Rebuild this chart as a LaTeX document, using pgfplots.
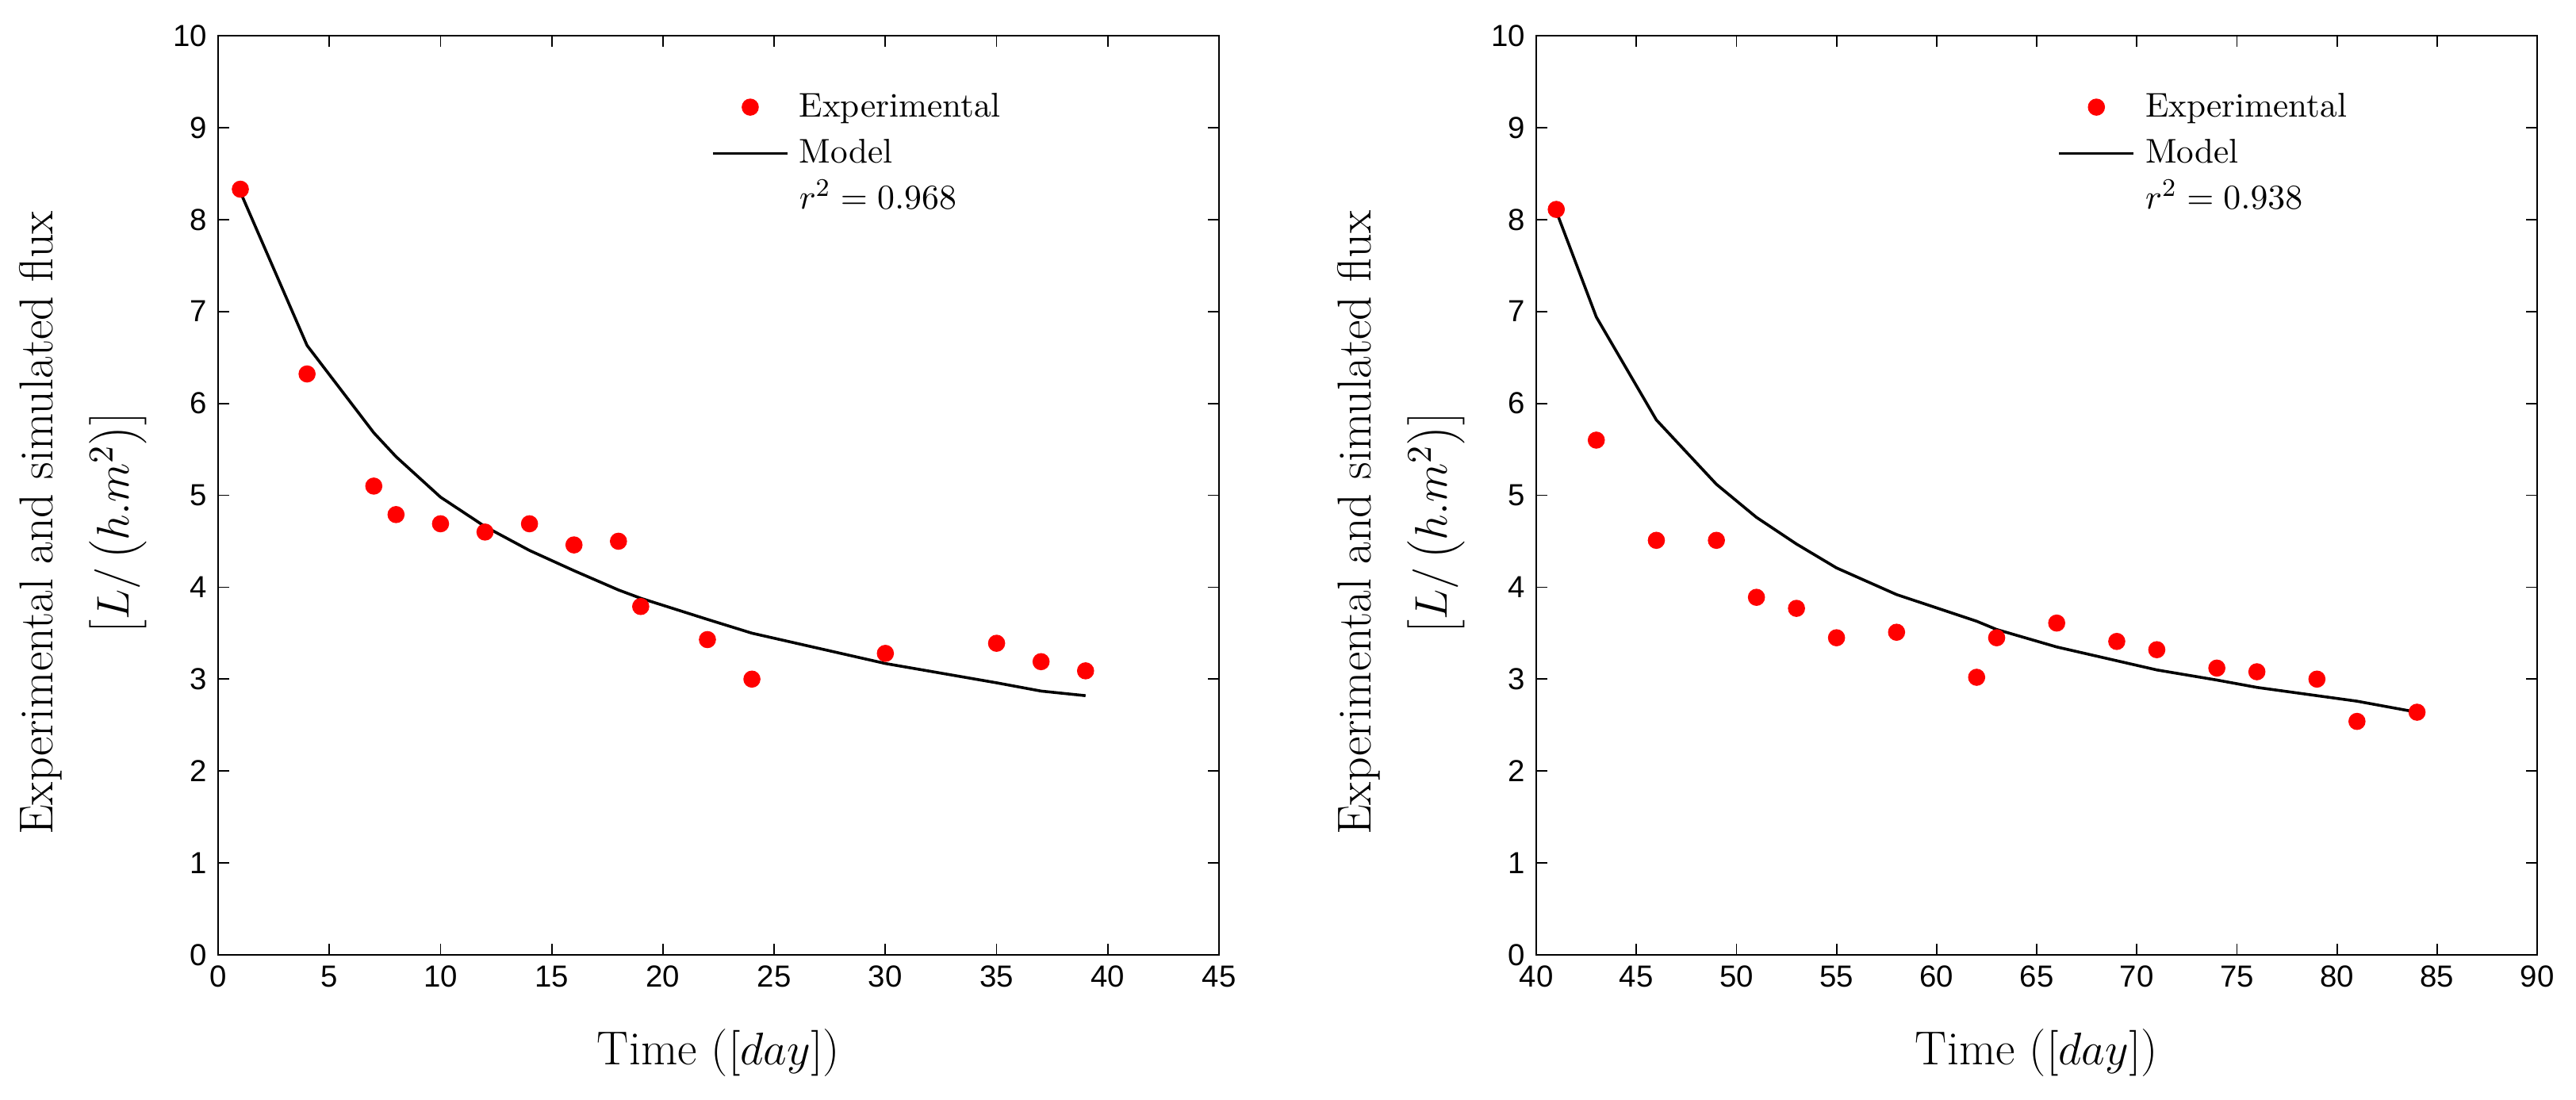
\documentclass[border=0pt]{standalone}
\usepackage{fontspec}
\usepackage{pgfplots}
\pgfplotsset{compat=1.18}
\newfontfamily\ticksf{Liberation Sans}
\definecolor{expred}{RGB}{255,0,0}

\pgfplotstableread{
x y
1 8.33
4 6.32
7 5.10
8 4.79
10 4.69
12 4.60
14 4.69
16 4.46
18 4.50
19 3.79
22 3.43
24 3.00
30 3.28
35 3.39
37 3.19
39 3.09
}\expA
\pgfplotstableread{
x y
1 8.30
4 6.63
7 5.68
8 5.42
10 4.98
12 4.66
14 4.40
16 4.18
18 3.97
19 3.88
22 3.65
24 3.50
30 3.17
35 2.96
37 2.87
39 2.82
}\modA
\pgfplotstableread{
x y
41 8.11
43 5.60
46 4.51
49 4.51
51 3.89
53 3.77
55 3.45
58 3.51
62 3.02
63 3.45
66 3.61
69 3.41
71 3.32
74 3.12
76 3.08
79 3.00
81 2.54
84 2.64
}\expB
\pgfplotstableread{
x y
41 8.09
43 6.94
46 5.82
49 5.12
51 4.76
53 4.47
55 4.21
58 3.92
62 3.63
63 3.54
66 3.35
69 3.20
71 3.10
74 2.99
76 2.91
79 2.82
81 2.76
84 2.64
}\modB

\pgfplotsset{
  myaxis/.style={
    scale only axis,
    width=315.5pt, height=289.75pt,
    anchor=south west,
    ymin=0, ymax=10, ytick={0,1,...,10},
    tick align=inside,
    xtick pos=both, ytick pos=both,
    major tick length=3.5pt,
    axis line style={line width=0.45pt},
    tick style={line width=0.45pt, black},
    /pgf/number format/assume math mode=true,
    ticklabel style={font=\ticksf\fontsize{9.6}{11}\selectfont},
    xlabel={Time ($[day]$)},
    xlabel style={font=\fontsize{15}{18}\selectfont, at={(axis description cs:0.5,0)}, anchor=base, yshift=-34.5pt},
    ylabel={Experimental and simulated flux\\[6pt]$\left[L/\left(h.m^{2}\right)\right]$},
    ylabel style={font=\fontsize{15}{18}\selectfont, align=center, at={(axis description cs:-0.135,0.47)}, anchor=center, rotate=0},
    legend cell align=left,
    legend image code/.code={\draw[mark repeat=2,mark phase=2,##1] plot coordinates {(0pt,0pt) (11.75pt,0pt) (23.5pt,0pt)};},
    legend style={draw=none, fill=none, inner sep=0pt, outer sep=0pt,
      font=\fontsize{10.8}{13}\selectfont,
      nodes={inner sep=0pt, text height=9pt, text depth=3pt},
      row sep=2.6pt, column sep=3.25pt},
  },
  expstyle/.style={only marks, mark=*, mark size=2.5pt, color=expred, mark options={draw=expred, fill=expred}},
  modstyle/.style={black, line width=0.9pt, mark=none},
}

\begin{document}
\begin{tikzpicture}
\begin{axis}[myaxis, at={(68.75pt,45.5pt)},
  xmin=0, xmax=45, xtick={0,5,...,45},
  legend style={at={(axis description cs:0.493,0.943)}, anchor=north west}]
\addplot[expstyle] table[x=x,y=y] {\expA};
\addlegendentry{Experimental}
\addplot[modstyle] table[x=x,y=y] {\modA};
\addlegendentry{Model}
\addlegendimage{empty legend}
\addlegendentry{$r^2 = 0.968$}
\end{axis}
\begin{axis}[myaxis, at={(484.25pt,45.5pt)},
  xmin=40, xmax=90, xtick={40,45,...,90},
  legend style={at={(axis description cs:0.521,0.943)}, anchor=north west}]
\addplot[expstyle] table[x=x,y=y] {\expB};
\addlegendentry{Experimental}
\addplot[modstyle] table[x=x,y=y] {\modB};
\addlegendentry{Model}
\addlegendimage{empty legend}
\addlegendentry{$r^2 = 0.938$}
\end{axis}
\pgfresetboundingbox
\path[use as bounding box] (0,0) rectangle (812pt,346.5pt);
\end{tikzpicture}
\end{document}
